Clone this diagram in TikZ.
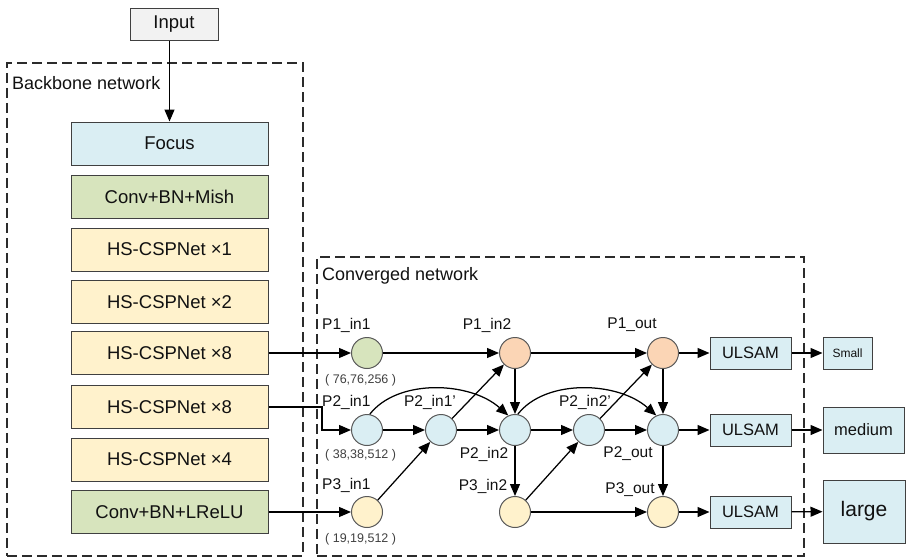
\documentclass[tikz,border=0pt]{standalone}
\usepackage{fontspec}
\setmainfont{Liberation Sans}
\usetikzlibrary{arrows.meta}
\definecolor{cblue}{HTML}{DAEEF3}
\definecolor{cgreen}{HTML}{D7E4BD}
\definecolor{cyellow}{HTML}{FFF2CC}
\definecolor{cpeach}{HTML}{FBD5B5}
\definecolor{cgray}{HTML}{F2F2F2}
\definecolor{bordc}{HTML}{404040}
\definecolor{dashc}{HTML}{2B2B2B}
\definecolor{circc}{HTML}{595959}
\definecolor{txtc}{HTML}{111111}
\begin{document}
\begin{tikzpicture}[x=1pt,y=-1pt,
  box/.style={draw=bordc, line width=1pt, minimum width=197pt, minimum height=43pt, inner sep=0pt, text=txtc, font=\fontsize{18.5}{20}\selectfont},
  sbox/.style={draw=bordc, line width=1pt, inner sep=0pt, fill=cblue, text=txtc},
  circ/.style={circle, draw=circc, line width=1pt, minimum size=31pt, inner sep=0pt},
  arr/.style={-{Triangle[length=12pt,width=10pt]}, line width=1.25pt, draw=black},
  lab/.style={font=\fontsize{15.5}{18}\selectfont, inner sep=0pt, text=txtc},
  dimlab/.style={font=\fontsize{12.5}{14}\selectfont, inner sep=0pt, text=black!75},
  dashbox/.style={draw=dashc, line width=1.5pt, dash pattern=on 10pt off 5pt, inner sep=0pt},
  title/.style={font=\fontsize{18}{20}\selectfont, inner sep=0pt, text=txtc, anchor=west}
]
\useasboundingbox (0,0) rectangle (907,557);

% dashed regions
\node[dashbox, anchor=north west, minimum width=296pt, minimum height=493pt] (bb) at (6,62) {};
\node[dashbox, anchor=north west, minimum width=487pt, minimum height=299pt] (cv) at (316,256) {};
\node[title] (bbt) at (12,83) {Backbone network};
\node[title] (cvt) at (322,276) {Converged network};

% input
\node[draw=bordc, line width=1pt, fill=cgray, minimum width=88pt, minimum height=32pt, inner sep=0pt, text=txtc, font=\fontsize{18.5}{20}\selectfont] (in) at (174,24) {Input};

% backbone
\node[box, fill=cblue] (focus) at (169.5,143.5) {Focus};
\node[box, fill=cgreen] (mish) at (169.5,196.5) {Conv+BN+Mish};
\node[box, fill=cyellow] (hs1) at (169.5,249.5) {HS-CSPNet ×1};
\node[box, fill=cyellow] (hs2) at (169.5,302) {HS-CSPNet ×2};
\node[box, fill=cyellow] (hs8a) at (169.5,353) {HS-CSPNet ×8};
\node[box, fill=cyellow] (hs8b) at (169.5,407) {HS-CSPNet ×8};
\node[box, fill=cyellow] (hs4) at (169.5,459.5) {HS-CSPNet ×4};
\node[box, fill=cgreen] (lrelu) at (169.5,512) {Conv+BN+LReLU};

\draw[arr] (focus.north |- in.south) -- (focus.north);

% circles
\node[circ, fill=cgreen] (P1in1) at (367,353) {};
\node[circ, fill=cpeach] (P1in2) at (515,353) {};
\node[circ, fill=cpeach] (P1out) at (663,353) {};
\node[circ, fill=cblue] (P2in1) at (367,430) {};
\node[circ, fill=cblue] (P2in1p) at (441,430) {};
\node[circ, fill=cblue] (P2in2) at (515,430) {};
\node[circ, fill=cblue] (P2in2p) at (589,430) {};
\node[circ, fill=cblue] (P2out) at (663,430) {};
\node[circ, fill=cyellow] (P3in1) at (367,512) {};
\node[circ, fill=cyellow] (P3in2) at (515,512) {};
\node[circ, fill=cyellow] (P3out) at (663,512) {};

% labels
\node[lab, anchor=west] (l1) at (322,325) {P1\_in1};
\node[lab] (l2) at (487,325) {P1\_in2};
\node[lab] (l3) at (632,325) {P1\_out};
\node[lab, anchor=west] (l4) at (322,402) {P2\_in1};
\node[lab] (l5) at (430,402) {P2\_in1'};
\node[lab] (l6) at (484,454) {P2\_in2};
\node[lab] (l7) at (585,402) {P2\_in2'};
\node[lab] (l8) at (628,454) {P2\_out};
\node[lab, anchor=west] (l9) at (322,485) {P3\_in1};
\node[lab] (l10) at (483,486) {P3\_in2};
\node[lab] (l11) at (630,490) {P3\_out};
\node[dimlab, anchor=west] (d1) at (325,380) {( 76,76,256 )};
\node[dimlab, anchor=west] (d2) at (325,455) {( 38,38,512 )};
\node[dimlab, anchor=west] (d3) at (325,539) {( 19,19,512 )};

% ULSAM and outputs
\node[sbox, minimum width=81pt, minimum height=32pt, font=\fontsize{16.5}{18}\selectfont] (u1) at (750.5,353) {ULSAM};
\node[sbox, minimum width=81pt, minimum height=32pt, font=\fontsize{16.5}{18}\selectfont] (u2) at (750.5,430) {ULSAM};
\node[sbox, minimum width=81pt, minimum height=32pt, font=\fontsize{16.5}{18}\selectfont] (u3) at (750.5,512) {ULSAM};
\node[sbox, minimum width=49pt, minimum height=32pt, font=\fontsize{12}{14}\selectfont] (small) at (847.5,353) {Small};
\node[sbox, minimum width=81pt, minimum height=46pt, font=\fontsize{16.5}{18}\selectfont] (medium) at (863.5,430) {medium};
\node[sbox, minimum width=82pt, minimum height=63pt, font=\fontsize{21}{24}\selectfont] (large) at (864,511.5) {large};

% inputs into converged network
\coordinate (bend) at (322,407);
\draw[arr] (hs8a.east) -- (P1in1.west);
\draw[arr] (hs8b.east) -- (bend) |- (P2in1.west);
\draw[arr] (lrelu.east) -- (P3in1.west);

% edges
\draw[arr] (P1in1) -- (P1in2);
\draw[arr] (P1in2) -- (P1out);
\draw[arr] (P1in2) -- (P2in2);
\draw[arr] (P2in1) -- (P2in1p);
\draw[arr] (P2in1p) -- (P2in2);
\draw[arr] (P2in1p) -- (P1in2);
\draw[arr] (P3in1) -- (P2in1p);
\draw[arr] (P2in1.80) .. controls +(28,-36) and +(-38,-34) .. (P2in2.115);
\draw[arr] (P2in2) -- (P2in2p);
\draw[arr] (P2in2) -- (P3in2);
\draw[arr] (P3in2) -- (P3out);
\draw[arr] (P3in2) -- (P2in2p);
\draw[arr] (P2in2p) -- (P1out);
\draw[arr] (P2in2p) -- (P2out);
\draw[arr] (P2in2.80) .. controls +(28,-36) and +(-38,-34) .. (P2out.115);
\draw[arr] (P1out) -- (P2out);
\draw[arr] (P2out) -- (P3out);
\draw[arr] (P1out) -- (u1);
\draw[arr] (P2out) -- (u2);
\draw[arr] (P3out) -- (u3);
\draw[arr] (u1) -- (small);
\draw[arr] (u2) -- (medium);
\draw[arr] (u3) -- (large);
\end{tikzpicture}
\end{document}
